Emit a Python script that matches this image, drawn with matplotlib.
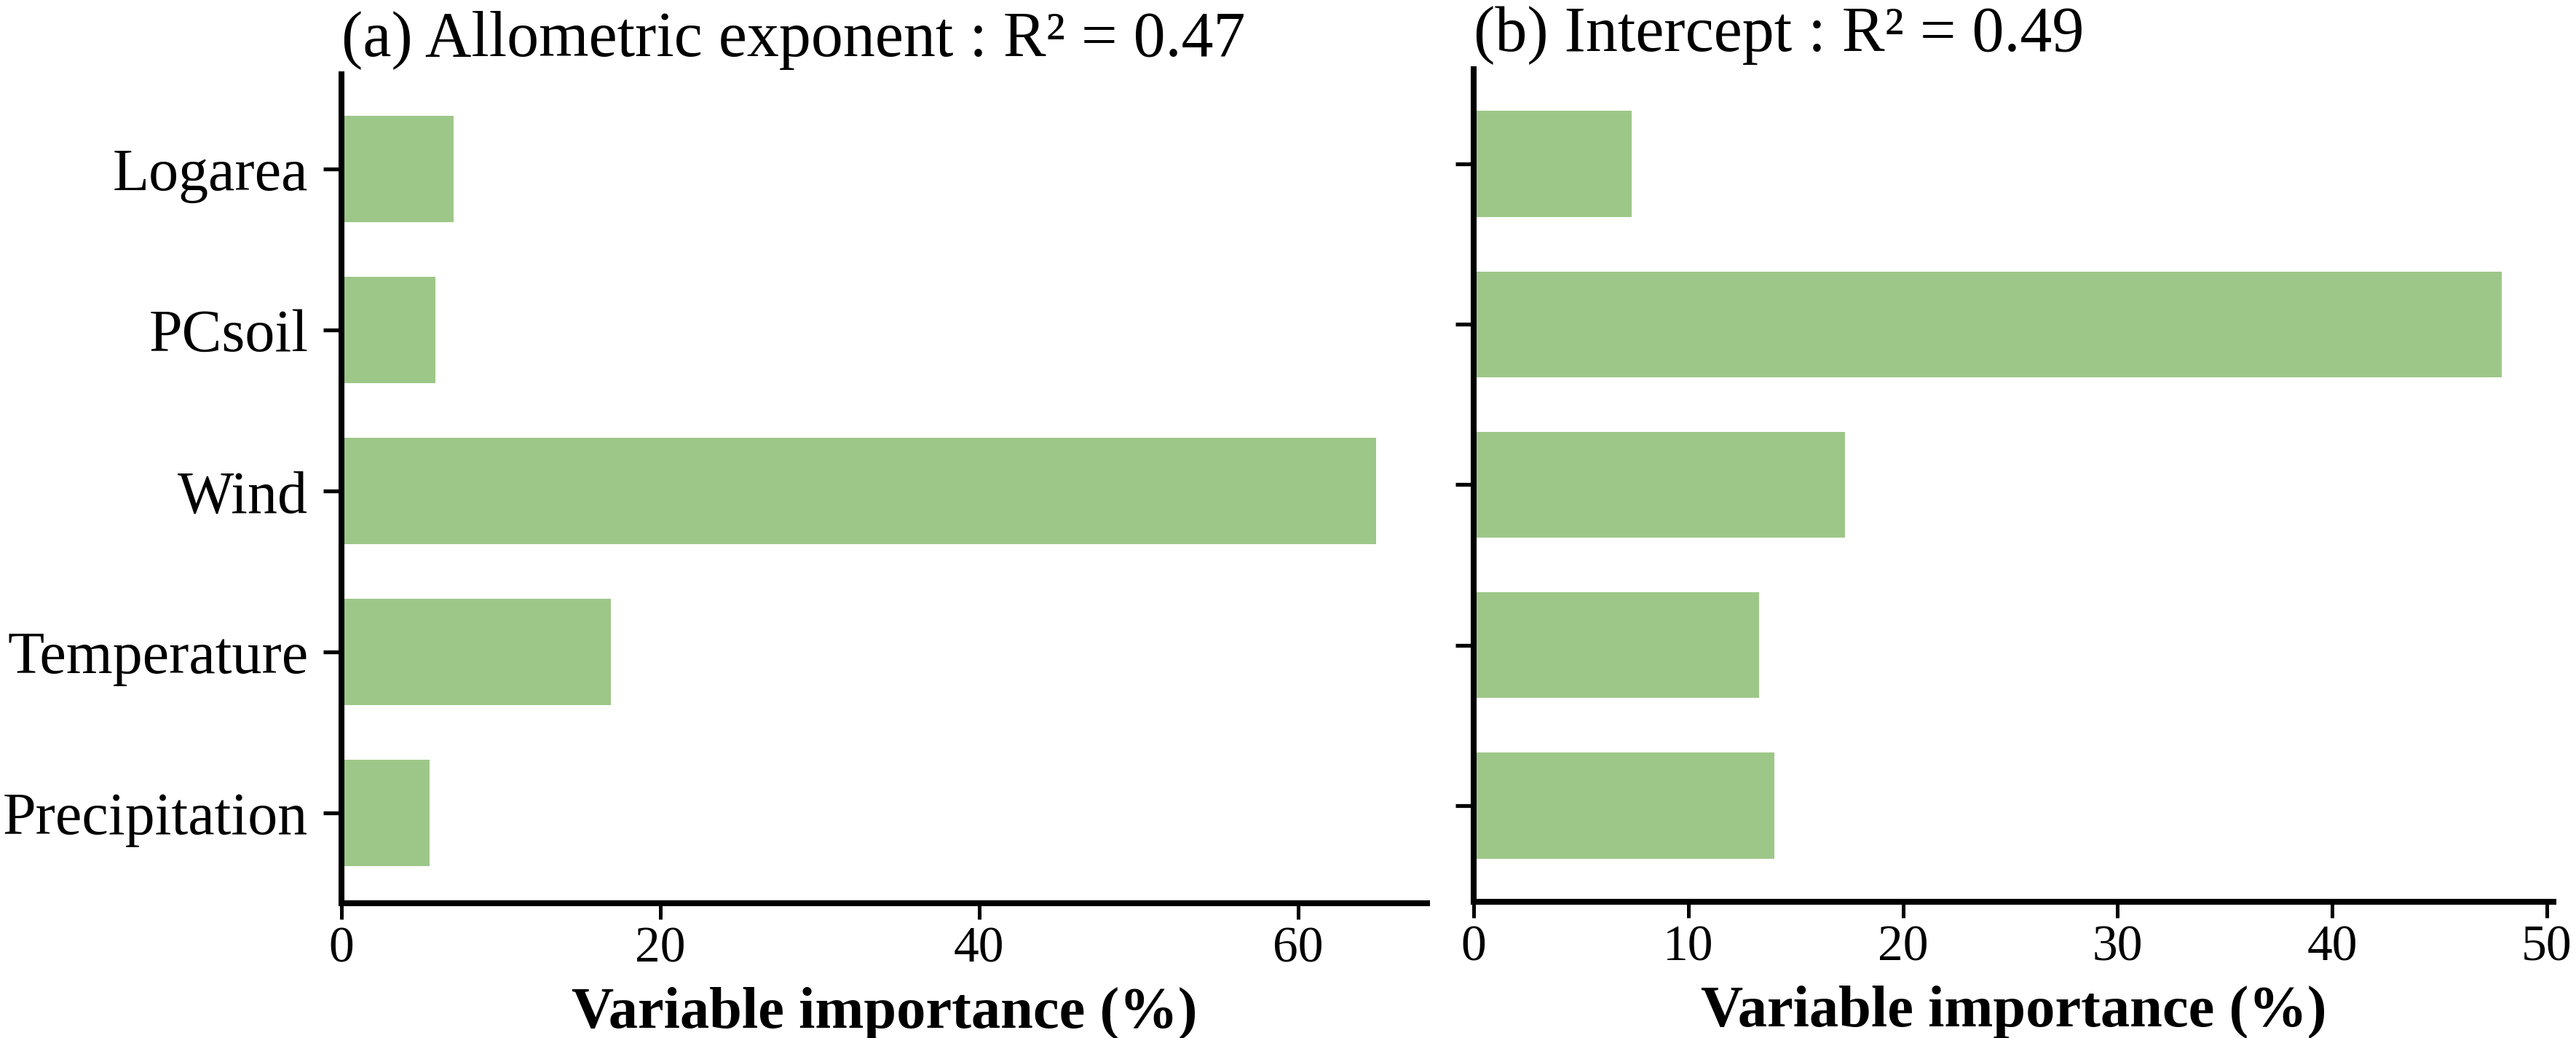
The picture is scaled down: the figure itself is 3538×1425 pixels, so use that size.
import numpy as np
import matplotlib
matplotlib.use('Agg')
import matplotlib.pyplot as plt

plt.rcParams['font.family'] = ['Liberation Serif', 'DejaVu Serif']

# variables, bottom to top as drawn
variables = ['Precipitation', 'Temperature', 'Wind', 'PCsoil', 'Logarea']
exponent_imp = [5.5, 16.9, 64.9, 5.9, 7.05]
intercept_imp = [14.0, 13.3, 17.3, 47.9, 7.35]

titles = ['(a) Allometric exponent : R\u00b2 = 0.47', '(b) Intercept : R\u00b2 = 0.49']
xlims = [(0, 68.1), (0, 50.3)]
xticks = [[0, 20, 40, 60], [0, 10, 20, 30, 40, 50]]
xlabel = 'Variable importance (%)'
bar_color = '#9dc788'

fig = plt.figure(figsize=(17.69, 7.125), dpi=200)
ax1 = fig.add_axes([0.1326, 0.1298, 0.4214, 0.7986])
ax2 = fig.add_axes([0.5721, 0.1312, 0.4191, 0.8021])

ypos = np.arange(len(variables))
for ax, vals, title, xl, xt in zip([ax1, ax2], [exponent_imp, intercept_imp], titles, xlims, xticks):
    ax.barh(ypos, vals, height=0.66, color=bar_color, zorder=2)
    ax.set_xlim(*xl)
    ax.set_xticks(xt)
    ax.set_yticks(ypos)
    ax.set_title(title, loc='left', fontsize=31.7, pad=9)
    ax.set_xlabel(xlabel, fontsize=29, fontweight='bold', labelpad=7)
    for s in ['top', 'right']:
        ax.spines[s].set_visible(False)
    for s in ['left', 'bottom']:
        ax.spines[s].set_linewidth(2.9)
    ax.tick_params(axis='y', length=9, width=1.9, pad=7.5, labelsize=29.5)
    ax.tick_params(axis='x', length=8, width=1.8, pad=3.5, labelsize=25)

ax1.set_ylim(-0.56, 4.59)
ax2.set_ylim(-0.6, 4.59)
ax1.set_yticklabels(variables)
ax2.set_yticklabels([])

fig.savefig('out.png', dpi=200)
